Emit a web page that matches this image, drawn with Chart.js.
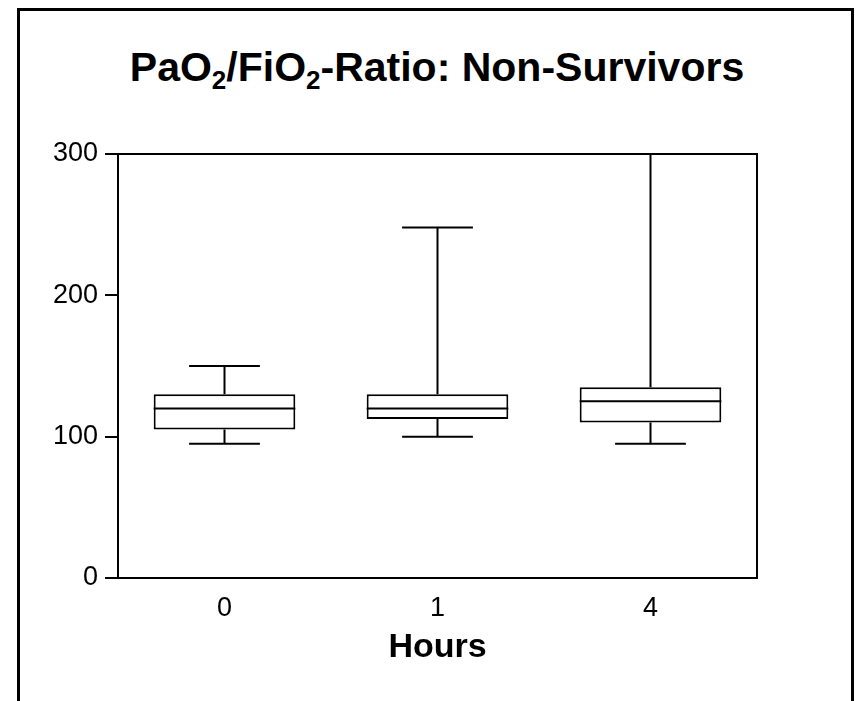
<!DOCTYPE html>
<html>
<head>
<meta charset="utf-8">
<script src="https://cdn.jsdelivr.net/npm/chart.js@4/dist/chart.umd.min.js"></script>
<style>
  html, body { margin: 0; padding: 0; overflow: hidden; background: #fff; }
  #marco { position: absolute; left: 17px; top: 8px; width: 837px; height: 900px; box-sizing: border-box;
           border: 3px solid #000; border-bottom: none; }
  #titulo { position: absolute; left: 37px; top: 47px; width: 800px; text-align: center;
            font: bold 41px "Liberation Sans", Arial, sans-serif; line-height: 41px; color: #000; white-space: nowrap; }
  #titulo sub { font-size: 26px; line-height: 0; vertical-align: -8px; }
  #grafica { position: absolute; left: 0; top: 0; }
</style>
</head>
<body>
<div id="marco"></div>
<div id="titulo">PaO<sub>2</sub>/FiO<sub>2</sub>-Ratio: Non-Survivors</div>
<canvas id="grafica" width="858" height="701"></canvas>
<script>
// Datos
var horas = ['0', '1', '4'];
var cajaInferior = [105, 112.5, 110];   // cuartil 1
var cajaSuperior = [130, 130, 135];     // cuartil 3
var medianas = [120, 120, 125];
var bigoteInferior = [95, 100, 95];
var bigoteSuperior = [150, 248, 300];
var ticksY = [0, 100, 200, 300];

var cajas = horas.map((_, i) => [cajaInferior[i], cajaSuperior[i]]);

// Dibuja medianas y bigotes con las escalas de la grafica
var bigotes = {
  id: 'bigotes',
  afterDatasetsDraw: function (chart) {
    var ctx = chart.ctx;
    var x = chart.scales.x;
    var y = chart.scales.y;
    var meta = chart.getDatasetMeta(0);
    ctx.save();
    ctx.beginPath();
    ctx.rect(chart.chartArea.left, chart.chartArea.top - 2, chart.chartArea.width, chart.chartArea.height + 4);
    ctx.clip();
    ctx.strokeStyle = '#000';
    ctx.lineWidth = 2;
    for (var i = 0; i < horas.length; i++) {
      var cx = x.getPixelForValue(i);
      var ancho = meta.data[i].width;
      var m = ancho / 4; // tapa = mitad de la caja
      ctx.beginPath();
      // mediana
      ctx.moveTo(cx - ancho / 2, y.getPixelForValue(medianas[i]));
      ctx.lineTo(cx + ancho / 2, y.getPixelForValue(medianas[i]));
      // bigote superior
      ctx.moveTo(cx, y.getPixelForValue(cajaSuperior[i]));
      ctx.lineTo(cx, y.getPixelForValue(bigoteSuperior[i]));
      ctx.moveTo(cx - m, y.getPixelForValue(bigoteSuperior[i]));
      ctx.lineTo(cx + m, y.getPixelForValue(bigoteSuperior[i]));
      // bigote inferior
      ctx.moveTo(cx, y.getPixelForValue(cajaInferior[i]));
      ctx.lineTo(cx, y.getPixelForValue(bigoteInferior[i]));
      ctx.moveTo(cx - m, y.getPixelForValue(bigoteInferior[i]));
      ctx.lineTo(cx + m, y.getPixelForValue(bigoteInferior[i]));
      ctx.stroke();
    }
    ctx.restore();
  },
  afterDraw: function (chart) {
    // marco del area de la grafica
    var a = chart.chartArea;
    var ctx = chart.ctx;
    ctx.save();
    ctx.strokeStyle = '#000';
    ctx.lineWidth = 2;
    ctx.strokeRect(a.left, a.top, a.width, a.height);
    ctx.restore();
  }
};

Chart.defaults.font.family = '"Liberation Sans", Arial, sans-serif';
Chart.defaults.color = '#000';

var ctx = document.getElementById('grafica').getContext('2d');
var myChart = new Chart(ctx, {
  type: 'bar',
  data: {
    labels: horas,
    datasets: [{
      data: cajas,
      backgroundColor: '#fff',
      borderColor: '#000',
      borderWidth: 2,
      borderSkipped: false,
      categoryPercentage: 1,
      barPercentage: 0.665
    }]
  },
  options: {
    responsive: false,
    animation: false,
    layout: { padding: { left: 0, top: 154, right: 101, bottom: 0 } },
    plugins: { legend: { display: false }, tooltip: { enabled: false } },
    scales: {
      x: {
        grid: { display: false, drawTicks: false },
        border: { display: true, color: '#000', width: 2 },
        ticks: { font: { size: 27 }, padding: 14, color: '#000' },
        title: { display: true, text: 'Hours', font: { size: 34, weight: 'bold' }, color: '#000', padding: { top: 0, bottom: 33 } },
        afterFit: function (s) { s.height = 123; }
      },
      y: {
        min: 0,
        max: 300,
        afterBuildTicks: function (s) { s.ticks = ticksY.map(v => ({ value: v })); },
        grid: { drawOnChartArea: false, drawTicks: true, tickLength: 13, color: '#000', lineWidth: 2 },
        border: { display: true, color: '#000', width: 2 },
        ticks: { font: { size: 27 }, padding: 7, color: '#000' },
        afterFit: function (s) { s.width = 118; }
      }
    }
  },
  plugins: [bigotes]
});
</script>
</body>
</html>
